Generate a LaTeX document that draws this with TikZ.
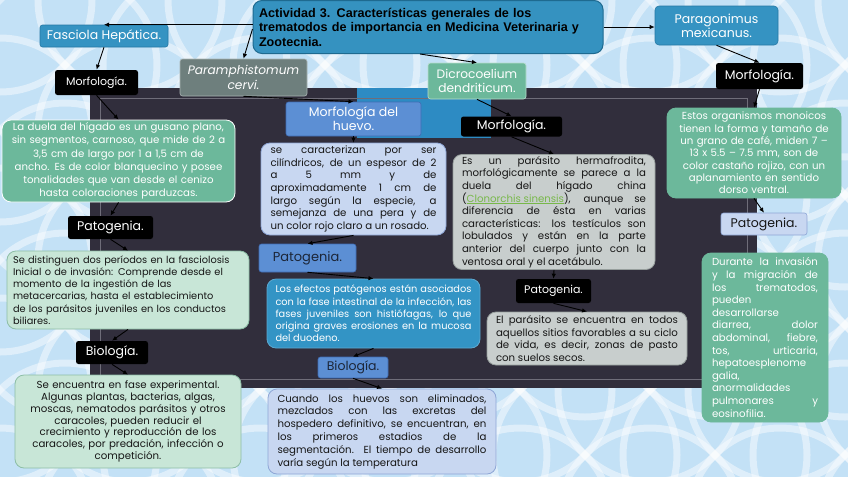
\documentclass[tikz,border=0pt]{standalone}
\usepackage{fontspec}
\setmainfont{Poppins}
\newfontfamily\titlefont{Liberation Sans}
\usetikzlibrary{arrows.meta,calc}
\definecolor{bgblue}{HTML}{C3E1F6}
\definecolor{panel}{HTML}{312E3C}
\definecolor{frameline}{HTML}{6F6D79}
\definecolor{patch}{HTML}{2D8BC3}
\definecolor{titleblue}{HTML}{3592C0}
\definecolor{titleedge}{HTML}{1E6A90}
\definecolor{labblue}{HTML}{3593C2}
\definecolor{labedge}{HTML}{2678A4}
\definecolor{slate}{HTML}{6E7F7D}
\definecolor{mint}{HTML}{6CB89B}
\definecolor{mintedge}{HTML}{B7DDCC}
\definecolor{palemint}{HTML}{C8E6D7}
\definecolor{palemintedge}{HTML}{8DBEA6}
\definecolor{corn}{HTML}{5C8FD4}
\definecolor{cornedge}{HTML}{3F6CB4}
\definecolor{paleblue}{HTML}{C8D7F1}
\definecolor{paleblueedge}{HTML}{8EA6D6}
\definecolor{effblue}{HTML}{3394C5}
\definecolor{palegray}{HTML}{C8CECD}
\definecolor{palegrayedge}{HTML}{969E9C}
\definecolor{link}{HTML}{78B84A}
\definecolor{ink}{HTML}{161616}
\definecolor{corntext}{HTML}{1C2638}

\begin{document}
\begin{tikzpicture}[x=1pt, y=-1pt,
  arr/.style={-{Latex[length=5pt,width=4.5pt]}, line width=0.9pt, black},
  bgring/.style={white, line width=7pt, opacity=0.45},
  lab/.style={rounded corners=2.5pt, inner sep=1pt, align=center, line width=0.6pt,
              font=\fontsize{12.5}{14}\selectfont},
  blk/.style={lab, fill=black, text=white},
  bluelab/.style={lab, fill=labblue, draw=labedge, text=white},
  cornlab/.style={lab, fill=corn, draw=cornedge, text=corntext},
  txt/.style={rounded corners=9pt, inner sep=0pt, line width=0.8pt,
              font=\fontsize{10.2}{12.6}\selectfont,
              execute at begin node={\hyphenpenalty=10000}},
  just/.style={txt, align=justify,
               execute at begin node={\tolerance=10000\hyphenpenalty=10000}},
  titlebox/.style={draw=titleedge, fill=titleblue, rounded corners=9pt, line width=1pt,
                   inner sep=0pt, align=left, text=black,
                   font=\titlefont\fontsize{12.6}{14.5}\selectfont\bfseries}]
\useasboundingbox (0,0) rectangle (848,477);
% ---------------- background and slide panel
\fill[bgblue] (0,0) rectangle (848,477);
\begin{scope}
  \clip (0,0) rectangle (848,477);
  \foreach \i in {0,...,7} {\foreach \j in {0,...,4} {
    \draw[bgring] (\i*130,\j*130) circle[radius=92];
    \draw[bgring] (\i*130+65,\j*130+65) circle[radius=92];}}
\end{scope}
\fill[panel] (90,88) rectangle (757,388);
\fill[patch] (357,88) rectangle (491,138);
\draw[frameline, line width=0.8pt] (100,98) rectangle (747,379);
% ---------------- title and species
\node[titlebox, minimum width=350pt, minimum height=53pt, text width=338pt] (title) at (428,27)
  {Actividad 3. Características generales de los\\ trematodos de importancia en Medicina Veterinaria y\\ Zootecnia.};
\node[bluelab, minimum width=128pt, minimum height=22pt] (fasciola) at (104,36) {Fasciola Hepática.};
\node[lab, fill=slate, draw=slate!60!white, text=white, minimum width=127pt, minimum height=37pt,
      font=\fontsize{12.2}{15}\selectfont\itshape] (param) at (243.5,77.5) {Paramphistomum\\ cervi.};
\node[lab, fill=mint, draw=mintedge, text=white, minimum width=98pt, minimum height=36pt,
      font=\fontsize{12.2}{14}\selectfont] (dicro) at (477,81) {Dicrocoelium\\ dendriticum.};
\node[bluelab, minimum width=123pt, minimum height=39pt, rounded corners=4pt] (parag) at (716.5,25.5) {Paragonimus\\ mexicanus.};
% ---------------- Fasciola hepatica
\node[blk, minimum width=83pt, minimum height=25pt, font=\fontsize{11}{13}\selectfont] (morfA) at (96.5,82.5) {Morfología.};
\node[txt, fill=mint, draw=white, text=white, align=center, minimum width=233pt, minimum height=82pt,
      text width=225pt, font=\fontsize{10.2}{13.3}\selectfont] (descA) at (118.5,161)
  {La duela del hígado es un gusano plano,\\ sin segmentos, carnoso, que mide de 2 a\\ 3,5 cm de largo por 1 a 1,5 cm de\\
   ancho. Es de color blanquecino y posee\\ tonalidades que van desde el cenizo\\ hasta coloraciones parduzcas.};
\node[blk, minimum width=85pt, minimum height=23pt] (patoA) at (110.5,227.5) {Patogenia.};
\node[txt, fill=palemint, draw=palemintedge, text=ink, align=left, minimum width=242pt, minimum height=78pt,
      text width=230pt, font=\fontsize{9.8}{12.2}\selectfont] (patoAtxt) at (128,290)
  {Se distinguen dos períodos en la fasciolosis\\ Inicial o de invasión: Comprende desde el\\ momento de la ingestión de las\\
   metacercarias, hasta el establecimiento\\ de los parásitos juveniles en los conductos\\ biliares.};
\node[blk, minimum width=72pt, minimum height=23pt] (bioA) at (112,352.5) {Biología.};
\node[txt, fill=palemint, draw=palemintedge, text=ink, align=center, minimum width=226pt, minimum height=93pt,
      text width=215pt, font=\fontsize{10.2}{11.8}\selectfont] (bioAtxt) at (128,421.5)
  {Se encuentra en fase experimental.\\ Algunas plantas, bacterias, algas,\\ moscas, nematodos parásitos y otros\\
   caracoles, pueden reducir el\\ crecimiento y reproducción de los\\ caracoles, por predación, infección o\\ competición.};
% ---------------- Paramphistomum cervi
\node[cornlab, text=white, minimum width=135pt, minimum height=34pt] (morfB) at (353.5,119) {Morfología del\\ huevo.};
\node[just, fill=paleblue, draw=paleblueedge, text=ink, minimum width=185pt, minimum height=92pt,
      text width=166pt] (descB) at (353.5,189)
  {se caracterizan por ser \linebreak cilíndricos, de un espesor de 2 \linebreak a 5 mm y de \linebreak
   aproximadamente 1 cm de \linebreak largo según la especie, a \linebreak semejanza de una pera y de \linebreak
   un color rojo claro a un rosado.};
\node[cornlab, minimum width=97pt, minimum height=28pt, font=\fontsize{13}{15}\selectfont] (patoB) at (307.5,258) {Patogenia.};
\node[just, fill=effblue, draw=effblue!80!white, text=white, minimum width=213pt, minimum height=69pt,
      text width=196pt, font=\fontsize{9.8}{12.3}\selectfont] (patoBtxt) at (373.5,313.5)
  {Los efectos patógenos están asociados \linebreak con la fase intestinal de la infección, las \linebreak
   fases juveniles son histiófagas, lo que \linebreak origina graves erosiones en la mucosa \linebreak del duodeno.};
\node[cornlab, minimum width=70pt, minimum height=21pt] (bioB) at (353,367.5) {Biología.};
\node[just, fill=paleblue, draw=paleblueedge, text=ink, minimum width=228pt, minimum height=85pt,
      text width=209pt, font=\fontsize{10.2}{12.8}\selectfont] (bioBtxt) at (382,431.5)
  {Cuando los huevos son eliminados, \linebreak mezclados con las excretas del \linebreak
   hospedero definitivo, se encuentran, en \linebreak los primeros estadios de la \linebreak
   segmentación. El tiempo de desarrollo \linebreak varía según la temperatura};
% ---------------- Dicrocoelium dendriticum
\node[blk, minimum width=101pt, minimum height=20pt] (morfC) at (511.5,126.5) {Morfología.};
\node[just, fill=palegray, draw=palegrayedge, text=ink, minimum width=202pt, minimum height=115pt,
      text width=184pt] (descC) at (554,212)
  {Es un parásito hermafrodita, \linebreak morfológicamente se parece a la \linebreak duela del hígado china \linebreak
   (\textcolor{link}{\underline{Clonorchis sinensis}}), aunque se \linebreak diferencia de ésta en varias \linebreak
   características: los testículos son \linebreak lobulados y están en la parte \linebreak
   anterior del cuerpo junto con la \linebreak ventosa oral y el acetábulo.};
\node[blk, minimum width=75pt, minimum height=24pt, font=\fontsize{11}{13}\selectfont] (patoC) at (553.5,291) {Patogenia.};
\node[just, fill=palegray, draw=palegrayedge, text=ink, minimum width=200pt, minimum height=53pt,
      text width=182pt] (patoCtxt) at (587,338.5)
  {El parásito se encuentra en todos \linebreak aquellos sitios favorables a su ciclo \linebreak
   de vida, es decir, zonas de pasto \linebreak con suelos secos.};
% ---------------- Paragonimus mexicanus
\node[blk, minimum width=87pt, minimum height=26pt] (morfD) at (759.5,76) {Morfología.};
\node[txt, fill=mint, draw=mint, text=white, align=center, minimum width=174pt, minimum height=90pt,
      text width=165pt, font=\fontsize{10.2}{12.3}\selectfont] (descD) at (754,153)
  {Estos organismos monoicos\\ tienen la forma y tamaño de\\ un grano de café, miden 7 –\\ 13 x 5.5 – 7.5 mm, son de\\
   color castaño rojizo, con un\\ aplanamiento en sentido\\ dorso ventral.};
\node[lab, fill=paleblue, draw=paleblueedge, text=ink, minimum width=86pt, minimum height=22pt] (patoD) at (764,224) {Patogenia.};
\node[just, fill=mint, draw=mint, text=white, minimum width=126pt, minimum height=169pt,
      text width=106pt] (patoDtxt) at (765,337.5)
  {Durante la invasión \linebreak y la migración de \linebreak los trematodos, \linebreak pueden \linebreak desarrollarse \linebreak
   diarrea, dolor \linebreak abdominal, fiebre, \linebreak tos, urticaria, \linebreak hepatoesplenome\linebreak galia, \linebreak
   anormalidades \linebreak pulmonares y \linebreak eosinofilia.};
% ---------------- connectors
\draw[arr] (title.west |- fasciola.north) -- (fasciola.north);
\draw[arr] ($(title.west)+(0,2)$) -- (param.north);
\draw[arr] ($(title.south)+(-8,0)$) -- (dicro.north);
\draw[arr] (title.east) -- (title.east -| parag.west);
\draw[arr] (fasciola.south) -- (morfA.north);
\draw[arr] (morfA.south) -- (descA.north);
\draw[arr] (descA.south) -- (patoA.north);
\draw[arr] (patoA.south) -- (patoAtxt.north);
\draw[arr] (patoAtxt.south) -- (bioA.north);
\draw[arr] (bioA.south) -- (bioAtxt.north);
\draw[arr] (param.south) -- (morfB.north);
\draw[arr] (morfB.south) -- (descB.north);
\draw[arr] (descB.south) -- (patoB.north);
\draw[arr] (patoB.south) -- (patoBtxt.north);
\draw[arr] (patoBtxt.south) -- (bioB.north);
\draw[arr] (bioB.south) -- (bioBtxt.north);
\draw[arr] (dicro.south) -- (morfC.north);
\draw[arr] (morfC.south) -- (descC.north);
\draw[arr] (descC.south) -- (patoC.north);
\draw[arr] (patoC.south) -- (patoCtxt.north);
\draw[arr] (parag.south) -- (morfD.north);
\draw[arr] (morfD.south) -- (descD.north);
\draw[arr] (descD.south) -- (patoD.north);
\end{tikzpicture}
\end{document}
